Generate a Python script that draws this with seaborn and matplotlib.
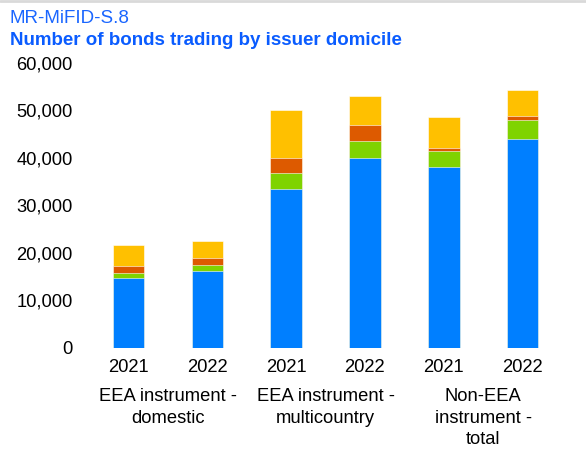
import pandas as pd
import matplotlib.pyplot as plt
import matplotlib.transforms as mtransforms
import seaborn as sns

# values
groups = ["EEA instrument -\ndomestic", "EEA instrument -\nmulticountry", "Non-EEA\ninstrument -\ntotal"]
years = ["2021", "2022"]
blue = [14700, 16250, 33450, 40100, 38000, 43950]
green = [1000, 1150, 3400, 3550, 3500, 4100]
orange = [1500, 1500, 3250, 3250, 600, 850]
yellow = [4400, 3550, 10000, 6100, 6500, 5500]

colors = {"blue": "#007FFF", "green": "#7FD300", "orange": "#DD5A00", "yellow": "#FFC000"}

bars = [f"{g} {y}" for g in groups for y in years]
df = pd.DataFrame({"bar": bars, "blue": blue, "green": green, "orange": orange, "yellow": yellow})
df["c_blue"] = df["blue"]
df["c_green"] = df["c_blue"] + df["green"]
df["c_orange"] = df["c_green"] + df["orange"]
df["c_yellow"] = df["c_orange"] + df["yellow"]

sns.set_style("white")
plt.rcParams["font.family"] = ["Liberation Sans", "DejaVu Sans"]

fig = plt.figure(figsize=(5.86, 4.5), dpi=100)
ax = fig.add_axes([0.152, 0.2267, 0.807, 0.6333])

# stacked bars: draw cumulative totals from top layer down
for layer in ["yellow", "orange", "green", "blue"]:
    sns.barplot(data=df, x="bar", y=f"c_{layer}", order=bars, color=colors[layer],
                width=0.4, saturation=1, errorbar=None,
                edgecolor="white", linewidth=0.4, ax=ax)

ax.set_ylim(0, 60000)
ax.set_xlim(-0.5, 5.5)
ax.set_yticks(range(0, 60001, 10000))
ax.set_yticklabels([f"{v:,}" for v in range(0, 60001, 10000)])
ax.set_xticks(range(len(bars)))
ax.set_xticklabels(years * len(groups))
ax.tick_params(axis="both", length=0, labelsize=13.2, colors="black")
ax.tick_params(axis="x", pad=8)
ax.tick_params(axis="y", pad=12)
ax.set_xlabel("")
ax.set_ylabel("")
sns.despine(ax=ax, left=True, bottom=True)

trans = mtransforms.blended_transform_factory(ax.transData, ax.transAxes)
for i, g in enumerate(groups):
    ax.text(2 * i + 0.5, -0.14, g, transform=trans, ha="center", va="top",
            fontsize=13.2, linespacing=1.36, color="black")

fig.text(0.017, 0.949, "MR-MiFID-S.8", color="#1A66FF", fontsize=13.5, va="baseline")
fig.text(0.017, 0.90, "Number of bonds trading by issuer domicile", color="#0A5CFF",
         fontsize=13.5, fontweight="bold", va="baseline")
fig.add_artist(plt.Line2D([0, 1], [0.997, 0.997], color="#D9D9D9", linewidth=2))

fig.savefig("out.png", dpi=100)
